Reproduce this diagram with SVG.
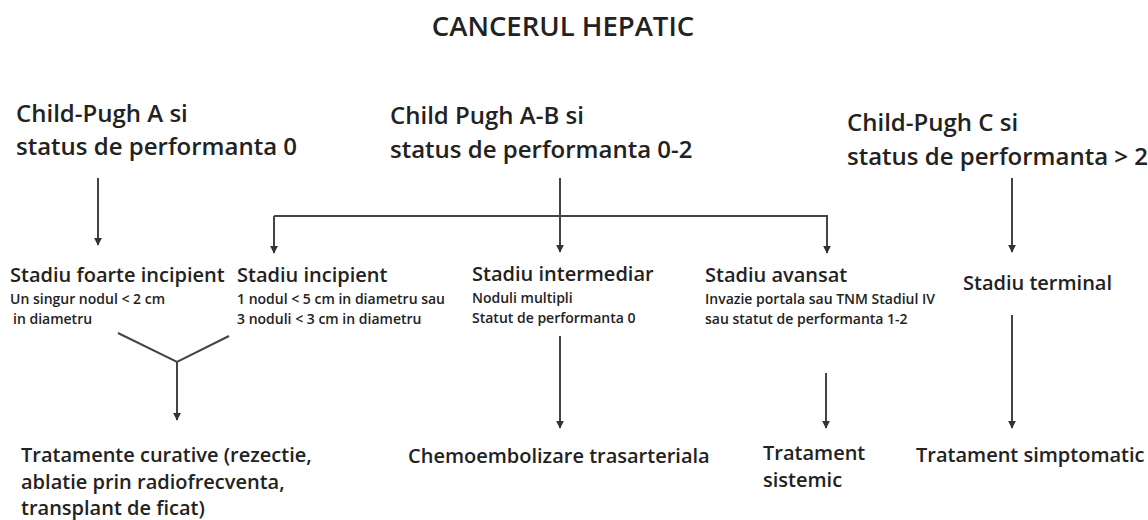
<svg xmlns="http://www.w3.org/2000/svg" width="1148" height="520" viewBox="0 0 1148 520">
<style>
text{font-family:"Open Sans",sans-serif;font-weight:600;fill:#222}
.t{font-size:27.5px}
.h{font-size:24px}
.s{font-size:20px}
.m{font-size:14px}
.b{font-size:20px}
.ln{stroke:#444;stroke-width:2;fill:none}
</style>
<defs>
<marker id="ah" viewBox="0 0 10 10" refX="9" refY="5" markerWidth="4" markerHeight="4" orient="auto"><path d="M0,0L10,5L0,10z" fill="#333"/></marker>
</defs>
<rect width="1148" height="520" fill="#fff"/>
<g id="title"><text class="t" x="563" y="36" text-anchor="middle">CANCERUL HEPATIC</text></g>
<g id="cpA"><text class="h" x="16" y="122">Child-Pugh A si</text><text class="h" x="16" y="155">status de performanta 0</text></g>
<g id="cpAB"><text class="h" x="390" y="124">Child Pugh A-B si</text><text class="h" x="390" y="158">status de performanta 0-2</text></g>
<g id="cpC"><text class="h" x="847" y="131">Child-Pugh C si</text><text class="h" x="847" y="165">status de performanta &gt; 2</text></g>
<g id="st1"><text class="s" x="10" y="282">Stadiu foarte incipient</text><text class="m" x="10" y="304">Un singur nodul &lt; 2 cm</text><text class="m" x="13" y="324">in diametru</text></g>
<g id="st2"><text class="s" x="237" y="282">Stadiu incipient</text><text class="m" x="237" y="304">1 nodul &lt; 5 cm in diametru sau</text><text class="m" x="237" y="324">3 noduli &lt; 3 cm in diametru</text></g>
<g id="st3"><text class="s" x="472" y="281">Stadiu intermediar</text><text class="m" x="472" y="303">Noduli multipli</text><text class="m" x="472" y="323">Statut de performanta 0</text></g>
<g id="st4"><text class="s" x="705" y="282">Stadiu avansat</text><text class="m" x="705" y="304">Invazie portala sau TNM Stadiul IV</text><text class="m" x="705" y="324">sau statut de performanta 1-2</text></g>
<g id="st5"><text class="s" x="963" y="290">Stadiu terminal</text></g>
<g id="tr1"><text class="b" x="21" y="462">Tratamente curative (rezectie,</text><text class="b" x="21" y="489">ablatie prin radiofrecventa,</text><text class="b" x="21" y="515">transplant de ficat)</text></g>
<g id="tr2"><text class="b" x="408" y="463">Chemoembolizare trasarteriala</text></g>
<g id="tr3"><text class="b" x="763" y="460">Tratament</text><text class="b" x="763" y="487">sistemic</text></g>
<g id="tr4"><text class="b" x="916" y="462">Tratament simptomatic</text></g>
<g id="connectors">
<path class="ln" d="M98,178V245" marker-end="url(#ah)"/>
<path class="ln" d="M274,216H827V253" marker-end="url(#ah)"/>
<path class="ln" d="M274,216V253" marker-end="url(#ah)"/>
<path class="ln" d="M560,178V252" marker-end="url(#ah)"/>
<path class="ln" d="M1012,178V252" marker-end="url(#ah)"/>
<path class="ln" d="M118,333L177,362L229,336"/>
<path class="ln" d="M177,362V420" marker-end="url(#ah)"/>
<path class="ln" d="M560,336V428" marker-end="url(#ah)"/>
<path class="ln" d="M826,373V428" marker-end="url(#ah)"/>
<path class="ln" d="M1012,315V428" marker-end="url(#ah)"/>
</g>
</svg>
